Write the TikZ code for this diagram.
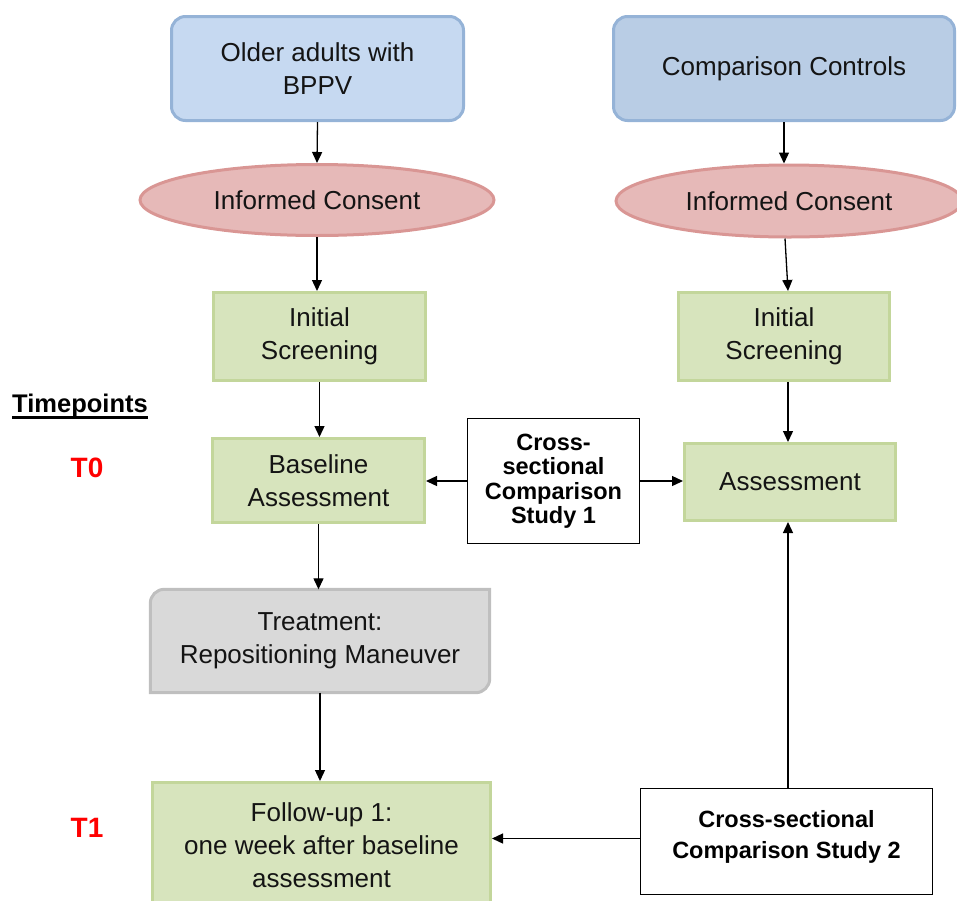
\documentclass[tikz,border=0pt]{standalone}
\usepackage{fontspec}
\setmainfont{Liberation Sans}
\usetikzlibrary{shapes.geometric,arrows.meta}

\definecolor{bluefill}{HTML}{C6D9F1}
\definecolor{bluefillB}{HTML}{B9CDE5}
\definecolor{blueedge}{HTML}{95B3D7}
\definecolor{pinkfill}{HTML}{E6B9B8}
\definecolor{pinkedge}{HTML}{D99694}
\definecolor{greenfill}{HTML}{D7E4BD}
\definecolor{greenedge}{HTML}{C3D69B}
\definecolor{greyfill}{HTML}{D9D9D9}
\definecolor{greyedge}{HTML}{BFBFBF}
\definecolor{inkcol}{HTML}{141414}
\definecolor{tpred}{HTML}{FF0000}

\begin{document}
\begin{tikzpicture}[x=1pt,y=-1pt,
  txt/.style={font=\fontsize{26}{33}\selectfont, align=center, text=inkcol},
  studytxt/.style={font=\bfseries\fontsize{23.5}{31}\selectfont, align=center, text=black},
  groupbox/.style={txt, draw=blueedge, line width=3pt, rounded corners=14pt},
  consent/.style={txt, ellipse, draw=pinkedge, fill=pinkfill, line width=3pt, inner sep=0pt},
  stagebox/.style={txt, draw=greenedge, fill=greenfill, line width=3pt, inner sep=0pt},
  studybox/.style={studytxt, draw=black, fill=white, line width=1.2pt, inner sep=0pt},
  arr/.style={draw=black, line width=1.3pt, -{Triangle[length=11pt,width=10pt]}},
  tplabel/.style={font=\bfseries\fontsize{28}{30}\selectfont, text=tpred},
  treatedge/.style={line width=3pt, draw=greyedge, fill=greyfill}
]
\useasboundingbox (0,0) rectangle (957,900);
\clip (0,0) rectangle (957,900);

% study groups
\node[groupbox, fill=bluefill, minimum width=292pt, minimum height=104pt] (grp1) at (317.5,68.5) {Older adults with\\BPPV};
\node[groupbox, fill=bluefillB, minimum width=341pt, minimum height=104pt] (grp2) at (784,68.5) {Comparison Controls};

% consent
\node[consent, minimum width=354pt, minimum height=71pt] (con1) at (317,200) {Informed Consent};
\node[consent, minimum width=346pt, minimum height=72pt] (con2) at (789,201) {Informed Consent};

% screening
\node[stagebox, minimum width=212pt, minimum height=88pt] (scr1) at (319.5,336.5) {Initial\\Screening};
\node[stagebox, minimum width=211pt, minimum height=88pt] (scr2) at (784,336.5) {Initial\\Screening};

% T0 assessments
\node[stagebox, minimum width=212pt, minimum height=84pt] (base) at (318.5,480.5) {Baseline\\Assessment};
\node[stagebox, minimum width=211pt, minimum height=77pt] (assess) at (790,482) {Assessment};

% treatment: rounded top-left and bottom-right corners only
\path (320,641) node[minimum width=339pt, minimum height=103pt, inner sep=0pt] (treat) {};
\path[treatedge] (treat.west) [rounded corners=14pt] -- (treat.north west) [sharp corners] -- (treat.north east) [rounded corners=14pt] -- (treat.south east) [sharp corners] -- (treat.south west) -- cycle;
\node[txt] (treattext) at (treat.center) {Treatment:\\Repositioning Maneuver};

% T1 follow-up
\node[stagebox, minimum width=338pt, minimum height=125pt] (follow) at (321.5,845) {Follow-up 1:\\one week after baseline\\assessment};

% cross-sectional comparison boxes
\node[studybox, font=\bfseries\fontsize{23.5}{24.5}\selectfont, minimum width=172pt, minimum height=125pt] (cmp1) at (553.5,481) {Cross-\\sectional\\Comparison\\Study 1};
\node[studybox, minimum width=292pt, minimum height=106pt] (cmp2) at (786.5,841.5) {};
\node[studytxt] (cmp2text) at (786.5,837) {Cross-sectional\\Comparison Study 2};

% timepoint labels
\node[font=\bfseries\fontsize{25.5}{30}\selectfont, text=black, inner sep=0pt] (tphead) at (80,406) {Timepoints};
\draw[line width=2.6pt] ([yshift=-5pt]tphead.base west) -- ([yshift=-5pt]tphead.base east);
\node[tplabel] (t0) at (87,468) {T0};
\node[tplabel] (t1) at (87,828) {T1};

% flow arrows
\draw[arr] (grp1.south) -- (con1.north);
\draw[arr] (grp2.south) -- (grp2.south |- con2.north);
\draw[arr] (con1.south) -- (con1.south |- scr1.north);
\draw[arr] ([xshift=-4pt]con2.south) -- ([xshift=4pt]scr2.north);
\draw[arr] (scr1.south) -- (scr1.south |- base.north);
\draw[arr] ([xshift=4pt]scr2.south) -- ([xshift=4pt]scr2.south |- assess.north);
\draw[arr] (base.south) -- (base.south |- treat.north);
\draw[arr] (treat.south) -- (treat.south |- follow.north);
\draw[arr] (cmp1.west) -- (cmp1.west -| base.east);
\draw[arr] (cmp1.east) -- (cmp1.east -| assess.west);
\draw[arr] ([yshift=3pt]cmp2.west) -- ([yshift=3pt]cmp2.west -| follow.east);
\draw[arr] ([xshift=1.5pt]cmp2.north) -- ([xshift=1.5pt]cmp2.north |- assess.south);
\end{tikzpicture}
\end{document}
